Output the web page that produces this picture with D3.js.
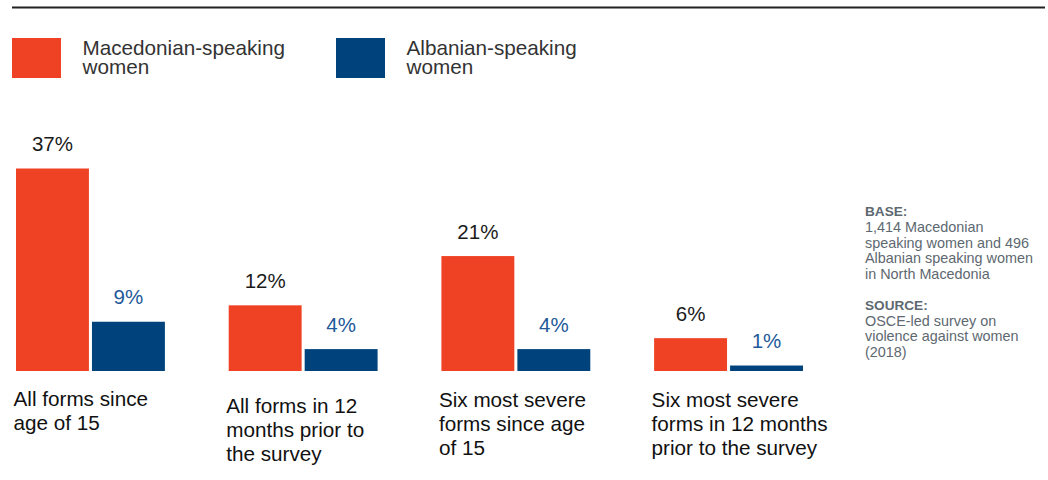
<!DOCTYPE html>
<html>
<head>
<meta charset="utf-8">
<script src="https://cdn.jsdelivr.net/npm/d3@7"></script>
<style>
    html, body { margin: 0; padding: 0; background: #fff; }
    #chart { width: 1048px; height: 480px; }
    text { font-family: 'Liberation Sans', Arial, sans-serif; }
</style>
</head>
<body>
<div id="chart"></div>
<script>
// data
const categories = [
    ['All forms since', 'age of 15'],
    ['All forms in 12', 'months prior to', 'the survey'],
    ['Six most severe', 'forms since age', 'of 15'],
    ['Six most severe', 'forms in 12 months', 'prior to the survey'],
];
const seriesNames = [
    ['Macedonian-speaking', 'women'],
    ['Albanian-speaking', 'women'],
];
const macedonianValues = [37, 12, 21, 6];
const albanianValues = [9, 4, 4, 1];
const baseLines = ['1,414 Macedonian', 'speaking women and 496', 'Albanian speaking women', 'in North Macedonia'];
const sourceLines = ['OSCE-led survey on', 'violence against women', '(2018)'];

const colors = ['#ef4224', '#00437c'];
const labelColors = ['#1a1a1a', '#22599a'];
// the 2nd category label sits a bit lower in the original
const labelShift = [0, 7, 1, 1];

const width = 1048;
const height = 480;
const baseline = 371;

const svg = d3.select('#chart').append('svg')
    .attr('width', width)
    .attr('height', height)

// top rule
svg.append('line')
    .attr('x1', 12).attr('x2', 1045)
    .attr('y1', 7.5).attr('y2', 7.5)
    .style('stroke', '#222')
    .style('stroke-width', 2.2)

// legend
const legendX = [12, 336];
const legend = svg.append('g')
    .selectAll('g')
    .data(seriesNames)
    .enter().append('g')
    .attr('transform', (d, i) => `translate(${legendX[i]},38)`)

legend.append('rect')
    .attr('width', 49)
    .attr('height', 40)
    .style('fill', (d, i) => colors[i])

legend.append('text')
    .attr('x', 70.5)
    .attr('y', 16.5)
    .style('font-size', '20.7px')
    .style('fill', '#333')
    .selectAll('tspan')
    .data(d => d)
    .enter().append('tspan')
    .attr('x', 70.5)
    .attr('dy', (d, i) => i === 0 ? 0 : 19.5)
    .text(d => d)

// scales
const groups = categories.map((d, i) => i);
const keys = ['mk', 'al'];
const rows = groups.map(i => ({ group: i, mk: macedonianValues[i], al: albanianValues[i] }));

const x0 = d3.scaleBand()
    .domain(groups)
    .range([16, 803])
    .paddingInner(0.3)
    .paddingOuter(0)
    .align(0)

const x1 = d3.scaleBand()
    .domain(keys)
    .range([0, x0.bandwidth()])
    .paddingInner(0.04)

const y = d3.scaleLinear()
    .domain([0, d3.max(macedonianValues.concat(albanianValues))])
    .range([baseline, 168.5])

const group = svg.append('g')
    .selectAll('g')
    .data(rows)
    .enter().append('g')
    .attr('transform', d => `translate(${x0(d.group)},0)`)

const bars = group.selectAll('g')
    .data(d => keys.map((k, i) => ({ key: k, idx: i, value: d[k] })))
    .enter().append('g')

bars.append('rect')
    .attr('x', d => x1(d.key))
    .attr('y', d => y(d.value))
    .attr('width', x1.bandwidth())
    .attr('height', d => baseline - y(d.value))
    .style('fill', d => colors[d.idx])

bars.append('text')
    .attr('x', d => x1(d.key) + x1.bandwidth() / 2)
    .attr('y', d => y(d.value) - 17.5)
    .attr('text-anchor', 'middle')
    .style('font-size', '20.5px')
    .style('fill', d => labelColors[d.idx])
    .text(d => d.value + '%')

// category labels
svg.append('g')
    .selectAll('text')
    .data(categories)
    .enter().append('text')
    .attr('x', (d, i) => x0(i) - 2.5)
    .attr('y', (d, i) => 406 + labelShift[i])
    .style('font-size', '20.7px')
    .style('fill', '#111')
    .each(function(lines, i) {
        d3.select(this).selectAll('tspan')
            .data(lines)
            .enter().append('tspan')
            .attr('x', x0(i) - 2.5)
            .attr('dy', (d, j) => j === 0 ? 0 : 24)
            .text(d => d)
    })

// base / source note
const note = svg.append('g')
    .attr('transform', 'translate(865,0)')
    .style('fill', '#5d6870')
    .style('font-size', '14.4px')

const noteBlocks = [
    { title: 'BASE:', y: 216, lines: baseLines },
    { title: 'SOURCE:', y: 309.5, lines: sourceLines },
];

noteBlocks.forEach(b => {
    note.append('text')
        .attr('x', 0)
        .attr('y', b.y)
        .style('font-weight', 'bold')
        .style('font-size', '13.6px')
        .text(b.title)

    note.append('text')
        .attr('y', b.y + 16.2)
        .selectAll('tspan')
        .data(b.lines)
        .enter().append('tspan')
        .attr('x', 0)
        .attr('dy', (d, i) => i === 0 ? 0 : 15.6)
        .text(d => d)
})
</script>
</body>
</html>
